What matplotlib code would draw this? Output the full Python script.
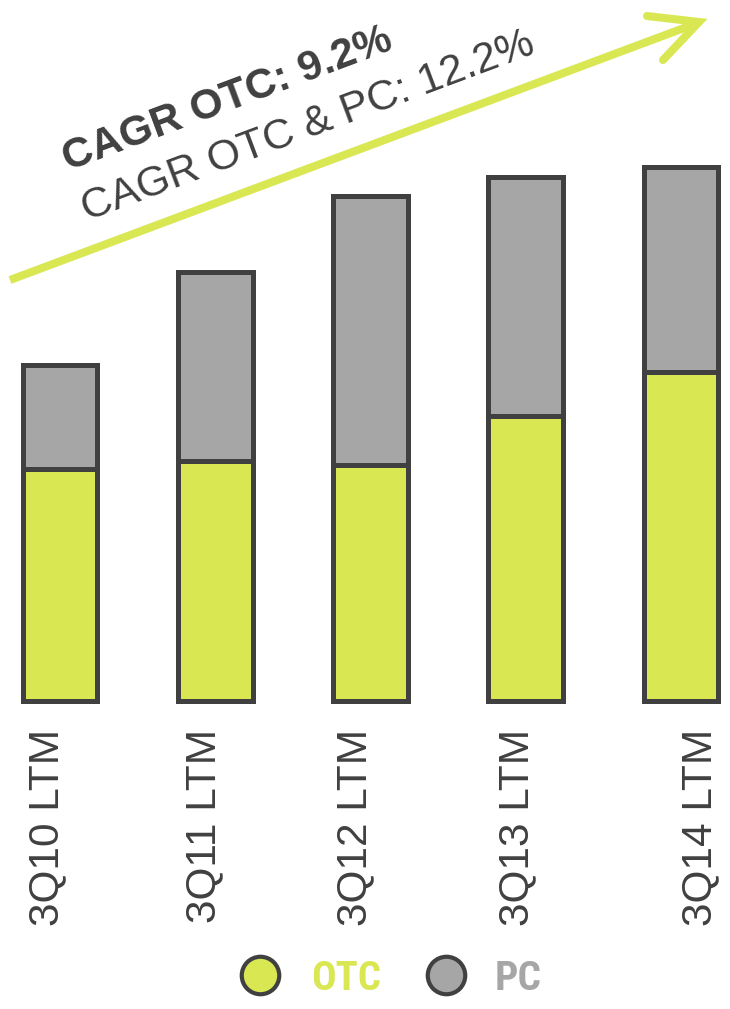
import matplotlib
matplotlib.use('Agg')
import matplotlib.pyplot as plt
from matplotlib.lines import Line2D
from matplotlib.transforms import offset_copy
from matplotlib import font_manager
import numpy as np

# ---- data ----
categories = ['3Q10 LTM', '3Q11 LTM', '3Q12 LTM', '3Q13 LTM', '3Q14 LTM']
otc = [232, 240, 236, 285, 329]
pc = [104, 189, 269, 239, 205]
series_names = ['OTC', 'PC']
cagr_otc = 'CAGR OTC: 9.2%'
cagr_total = 'CAGR OTC & PC: 12.2%'

# ---- layout / style ----
W, H, DPI = 730, 1009, 100
GREEN = '#d9e752'
GRAY = '#a6a6a6'
DARK = '#404040'
plt.rcParams['font.family'] = ['Liberation Sans', 'DejaVu Sans']

fig = plt.figure(figsize=(W / DPI, H / DPI), dpi=DPI)


def fx(px):
    return px / W


def fy(py):
    return 1 - py / H


ax = fig.add_axes([0, fy(701), 1, 701 / H])
x = np.arange(len(categories))
ppu = 155.25
ax.set_xlim(-60 / ppu, 4 + (W - 681) / ppu)
ax.set_ylim(0, 701)
ax.bar(x, otc, width=0.483, color=GREEN, edgecolor=DARK, linewidth=3.6,
       clip_on=False, zorder=2)
ax.bar(x, pc, bottom=otc, width=0.483, color=GRAY, edgecolor=DARK,
       linewidth=3.6, clip_on=False, zorder=2)
ax.axis('off')

# category labels (rotated)
label_dx = [-13, -11, -15, -9, 19]
for xi, lab, dx in zip(x, categories, label_dx):
    tr = offset_copy(ax.transData, fig=fig, x=dx, y=-28, units='dots')
    ax.text(xi, 0, lab, transform=tr, rotation=90, ha='center', va='top',
            fontsize=30.5, color=DARK, clip_on=False)

# growth arrow
shaft = Line2D([fx(10), fx(692)], [fy(280), fy(25)], transform=fig.transFigure,
               color=GREEN, lw=5.8, solid_capstyle='butt')
head = Line2D([fx(647), fx(699), fx(663)], [fy(16), fy(22), fy(60)],
              transform=fig.transFigure, color=GREEN, lw=5.8,
              solid_capstyle='round', solid_joinstyle='miter')
fig.add_artist(shaft)
fig.add_artist(head)

fig.text(fx(68), fy(171), cagr_otc, rotation=20.5, rotation_mode='anchor',
         ha='left', va='baseline', fontsize=30.5, fontweight='bold', color=DARK)
fig.text(fx(87), fy(221), cagr_total, rotation=20.5, rotation_mode='anchor',
         ha='left', va='baseline', fontsize=30.7, color=DARK)

# legend font: prefer a condensed bold face if one is installed
cond_path = None
prefs = ['robotocondensed-bold', 'liberationsansnarrow-bold',
         'dejavusanscondensed-bold', 'opensanscondensed-bold',
         'notosans-condensedbold', 'condensed-bold', 'condensedbold',
         'narrow-bold']
files = [f.fname for f in font_manager.fontManager.ttflist]
for p in prefs:
    hits = [f for f in files if p in f.lower().replace('_', '').replace(' ', '')
            and 'italic' not in f.lower()]
    if hits:
        cond_path = sorted(hits, key=len)[0]
        break
if cond_path:
    leg_fp = font_manager.FontProperties(fname=cond_path)
else:
    leg_fp = font_manager.FontProperties(family='Liberation Sans',
                                         weight='bold')

# legend
leg_colors = [GREEN, GRAY]
leg_mx = [260, 446]
leg_tx = [311, 495]
renderer = fig.canvas.get_renderer()
for name, col, mx, tx in zip(series_names, leg_colors, leg_mx, leg_tx):
    fig.add_artist(Line2D([fx(mx)], [fy(975)], transform=fig.transFigure,
                          marker='o', markersize=27, markerfacecolor=col,
                          markeredgecolor=DARK, markeredgewidth=3,
                          linestyle='none'))
    fp = leg_fp.copy()
    fp.set_size(36)
    t = fig.text(fx(tx), fy(979), name, ha='left', va='center',
                 fontproperties=fp, color=col)
    wpx = t.get_window_extent(renderer).width
    target = 70 if name == 'OTC' else 47
    fp.set_size(min(41, 36 * target / wpx))
    t.set_fontproperties(fp)

fig.savefig('out.png', dpi=DPI)
